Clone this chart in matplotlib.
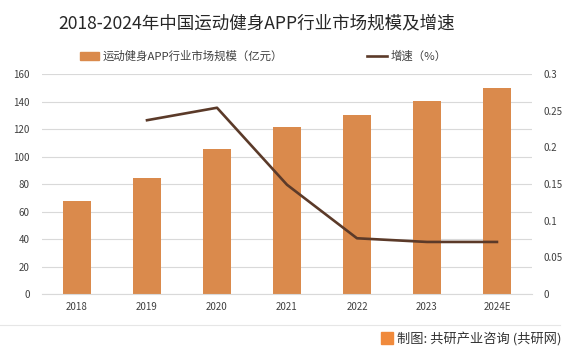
import numpy as np
import matplotlib.pyplot as plt
from matplotlib.lines import Line2D
from matplotlib.patches import Patch, Rectangle

plt.rcParams['font.family'] = ['Noto Sans CJK SC', 'DejaVu Sans']

# Données
annees = ['2018', '2019', '2020', '2021', '2022', '2023', '2024E']
marche = [67.6, 84.4, 105.5, 121.5, 130.2, 140.4, 149.8]   # 亿元
croissance = [None, 0.237, 0.254, 0.149, 0.076, 0.071, 0.071]

c_barre = '#DA8A4C'
c_ligne = '#5B3A29'
c_texte = '#404040'

fig = plt.figure(figsize=(5.71, 3.55), dpi=100)
ax = fig.add_axes([0.0736, 0.1718, 0.858, 0.6197])
ax2 = ax.twinx()

x = np.arange(len(annees))
ax.bar(x, marche, width=0.39, color=c_barre, zorder=2)
ax.set_xlim(-0.5, len(annees) - 0.5)
ax.set_ylim(0, 160)
ax.set_yticks(np.arange(0, 161, 20))
ax.yaxis.grid(True, color='#D9D9D9', linewidth=0.8, zorder=0)
ax.set_axisbelow(True)

xl = [i for i, v in enumerate(croissance) if v is not None]
yl = [v for v in croissance if v is not None]
ax2.plot(xl, yl, color=c_ligne, linewidth=1.9, zorder=3)
ax2.set_ylim(0, 0.3)
ax2.set_yticks([0, 0.05, 0.1, 0.15, 0.2, 0.25, 0.3])
ax2.set_yticklabels(['0', '0.05', '0.1', '0.15', '0.2', '0.25', '0.3'])

ax.set_xticks(x)
ax.set_xticklabels(annees)
for a in (ax, ax2):
    for s in a.spines.values():
        s.set_visible(False)
    a.tick_params(length=0, labelsize=7, colors=c_texte)
ax.tick_params(axis='y', pad=9)
ax2.tick_params(axis='y', pad=8)
ax.tick_params(axis='x', pad=6)
ax.spines['bottom'].set_visible(True)
ax.spines['bottom'].set_color('#D9D9D9')

fig.text(0.449, 0.935, '2018-2024年中国运动健身APP行业市场规模及增速',
         ha='center', va='center', fontsize=12.6, color='#262626')

handles = [Patch(color=c_barre), Line2D([0], [0], color=c_ligne, lw=1.9)]
labels = ['运动健身APP行业市场规模（亿元）', '增速（%）']
fig.legend(handles, labels, loc='center left', bbox_to_anchor=(0.122, 0.842), ncol=2,
           frameon=False, fontsize=8.2, columnspacing=7.4, handlelength=1.7,
           handletextpad=0.3, labelcolor=c_texte)

# Pied de page
fig.add_artist(Line2D([0.0, 0.98], [0.085, 0.085], color='#E6E6E6', lw=0.8))
fig.add_artist(Rectangle((0.667, 0.03), 0.021, 0.034, color='#F08A3C'))
fig.text(0.695, 0.045, '制图: 共研产业咨询 (共研网)', ha='left', va='center',
         fontsize=9.5, color='#333333')

plt.savefig('out.png', dpi=100)
